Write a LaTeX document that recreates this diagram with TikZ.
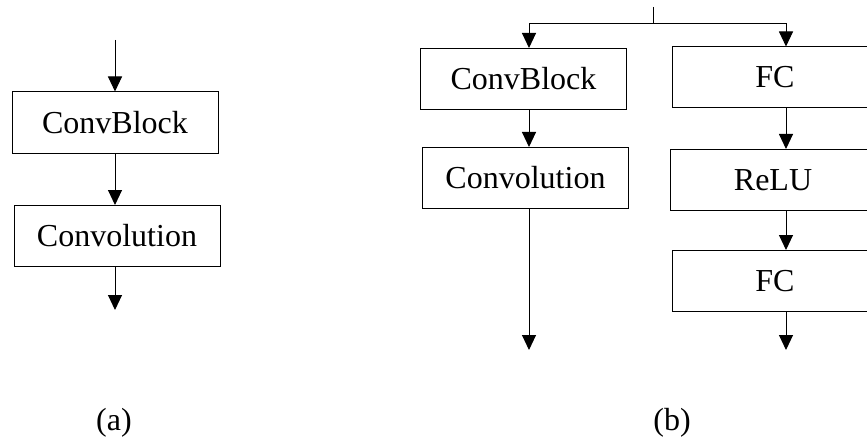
\documentclass[tikz,border=0pt]{standalone}
\usepackage{fontspec}
\setmainfont{Liberation Serif}
\usetikzlibrary{arrows.meta}
\begin{document}
\begin{tikzpicture}[x=1pt,y=-1pt,
  blk/.style={draw,line width=1pt,minimum width=206pt,minimum height=61pt,inner sep=0pt,font=\fontsize{32}{36}\selectfont},
  lbl/.style={font=\fontsize{32}{36}\selectfont,inner sep=0pt},
  arr/.style={line width=1pt,-{Triangle[width=14pt,length=15pt]}},
  ln/.style={line width=1pt}]
\useasboundingbox (0,0) rectangle (867,441);

% (a) single path
\node[blk] (cbA)   at (115,122.5) {ConvBlock};
\node[blk] (convA) at (117,236)   {Convolution};
\coordinate (inA)  at (115,40);
\coordinate (outA) at (115,310);
\coordinate (axA)  at (115,0);
\draw[arr] (inA) -- (cbA.north -| axA);
\draw[arr] (cbA.south -| axA) -- (convA.north -| axA);
\draw[arr] (convA.south -| axA) -- (outA);
\node[lbl] (capA) at (114,423) {(a)};

% (b) two branches
\coordinate (lx) at (529,0);
\coordinate (rx) at (786,0);
\coordinate (top)   at (653,7);
\coordinate (split) at (653,24);
\node[blk] (cbB)   at (523.5,79)  {ConvBlock};
\node[blk] (convB) at (525.5,178) {Convolution};
\node[blk] (fc1)   at (775,77.5)  {FC};
\node[blk] (relu)  at (773,180)   {ReLU};
\node[blk] (fc2)   at (775,281)   {FC};
\coordinate (outL) at (529,350);
\coordinate (outR) at (786,350);

\draw[ln] (top) -- (split);
\draw[arr] (split) -| (cbB.north -| lx);
\draw[arr] (split) -| (fc1.north -| rx);
\draw[arr] (cbB.south -| lx) -- (convB.north -| lx);
\draw[arr] (convB.south -| lx) -- (outL);
\draw[arr] (fc1.south -| rx) -- (relu.north -| rx);
\draw[arr] (relu.south -| rx) -- (fc2.north -| rx);
\draw[arr] (fc2.south -| rx) -- (outR);
\node[lbl] (capB) at (672,423) {(b)};
\end{tikzpicture}
\end{document}
